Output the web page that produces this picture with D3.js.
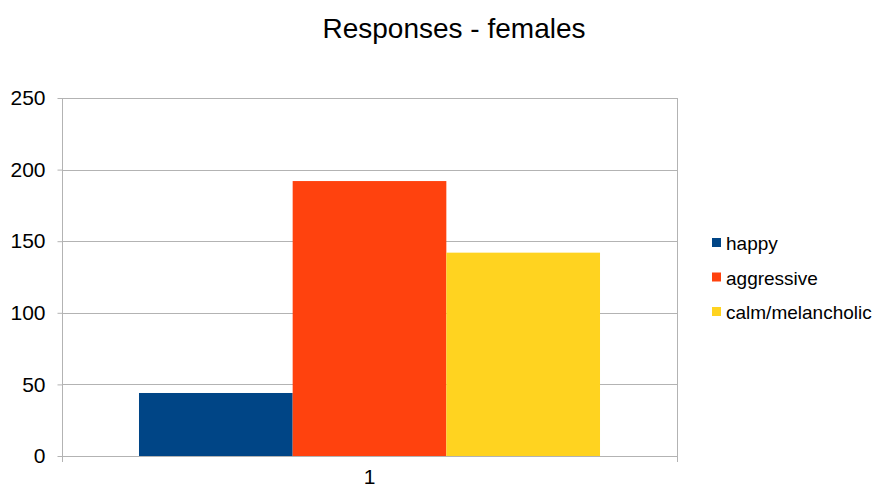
<!DOCTYPE html>
<html>
<head>
<meta charset="utf-8">
<script src="https://cdn.jsdelivr.net/npm/d3@7"></script>
<style>
  html, body { margin: 0; padding: 0; background: #fff; }
  svg { display: block; font-family: "Liberation Sans", Arial, sans-serif; }
</style>
</head>
<body>
<svg id="chart" width="875" height="488"></svg>
<script>
// Chart data
const categories = ["1"];
const seriesNames = ["happy", "aggressive", "calm/melancholic"];
const seriesValues = [44, 192, 142];
const seriesColors = ["#004586", "#ff420e", "#ffd320"];
const yTicks = [0, 50, 100, 150, 200, 250];

const svg = d3.select("#chart");
const margin = { left: 62, right: 198, top: 98, bottom: 32 };
const W = 875, H = 488;
const plotW = W - margin.left - margin.right;
const plotH = H - margin.top - margin.bottom;

const g = svg.append("g").attr("transform", `translate(${margin.left},${margin.top})`);

const x = d3.scaleBand().domain(categories).range([0, plotW]).paddingInner(0).paddingOuter(0.167);
const xs = d3.scaleBand().domain(seriesNames).range([0, x.bandwidth()]).padding(0);
const y = d3.scaleLinear().domain([0, 250]).range([plotH, 0]);

const gridColor = "#b3b3b3";
const fontFamily = "Liberation Sans, Arial, sans-serif";

// Horizontal gridlines
g.selectAll("line.grid").data(yTicks).enter().append("line")
  .attr("class", "grid")
  .attr("x1", 0).attr("x2", plotW)
  .attr("y1", d => Math.round(y(d)) + 0.5).attr("y2", d => Math.round(y(d)) + 0.5)
  .attr("stroke", gridColor).attr("stroke-width", 1);

// Bars
g.selectAll("rect.bar").data(seriesNames.map((s, i) => ({ s, v: seriesValues[i], c: seriesColors[i] })))
  .enter().append("rect")
  .attr("class", "bar")
  .attr("x", d => x(categories[0]) + xs(d.s))
  .attr("width", xs.bandwidth())
  .attr("y", d => y(d.v))
  .attr("height", d => plotH - y(d.v))
  .attr("fill", d => d.c);

// Y axis
const yAxis = d3.axisLeft(y).tickValues(yTicks).tickSize(5).tickPadding(12);
const ya = g.append("g").attr("transform", "translate(0.5,0)").call(yAxis);
ya.select(".domain").remove();
ya.append("line").attr("x1", 0).attr("x2", 0).attr("y1", 0).attr("y2", plotH + 6)
  .attr("stroke", gridColor);
ya.selectAll(".tick line").attr("stroke", gridColor);
ya.selectAll(".tick text").attr("font-size", 21).attr("fill", "#000")
  .attr("font-family", fontFamily);

// Right border of plot area
g.append("line").attr("x1", plotW + 0.5).attr("x2", plotW + 0.5).attr("y1", 0).attr("y2", plotH + 6)
  .attr("stroke", gridColor);

// X axis labels
const xAxis = d3.axisBottom(x).tickSize(0).tickPadding(13);
const xa = g.append("g").attr("transform", `translate(0,${plotH})`).call(xAxis);
xa.select(".domain").remove();
xa.selectAll(".tick text").attr("font-size", 21).attr("fill", "#000")
  .attr("font-family", fontFamily);

// Title
svg.append("text").attr("x", 454).attr("y", 38).attr("text-anchor", "middle")
  .attr("font-size", 28).attr("fill", "#000").text("Responses - females");

// Legend
const legend = svg.append("g").attr("transform", "translate(712,238)");
const rows = legend.selectAll("g").data(seriesNames).enter().append("g")
  .attr("transform", (d, i) => `translate(0,${i * 34.5})`);
rows.append("rect").attr("x", 0).attr("y", 0).attr("width", 9).attr("height", 9)
  .attr("fill", (d, i) => seriesColors[i]);
rows.append("text").attr("x", 14).attr("y", 12).attr("font-size", 19).attr("fill", "#000")
  .text(d => d);
</script>
</body>
</html>
